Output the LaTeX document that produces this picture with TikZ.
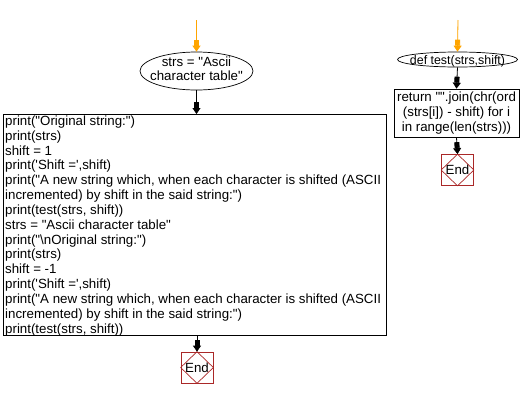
\documentclass[tikz,border=0pt]{standalone}
\usepackage{fontspec}
\setmainfont{Liberation Sans}[Ligatures=TeXOff]
\usetikzlibrary{shapes.geometric,arrows.meta}
\definecolor{startor}{RGB}{255,165,0}
\definecolor{endred}{RGB}{170,40,40}
\tikzset{
  flowtext/.style={font=\fontsize{13.3}{14.85}\selectfont},
  startell/.style={ellipse,draw,line width=0.7pt,inner sep=0pt,align=center,flowtext},
  procbox/.style={rectangle,draw,line width=0.7pt,inner sep=0pt,flowtext},
  endbox/.style={rectangle,draw=endred,line width=0.7pt,minimum width=32pt,minimum height=31pt,inner sep=0pt,flowtext,
    append after command={\pgfextra{\let\tmpn\tikzlastnode}
      (\tmpn.north) edge[draw=endred,line width=0.7pt,-] (\tmpn.east)
      (\tmpn.east) edge[draw=endred,line width=0.7pt,-] (\tmpn.south)
      (\tmpn.south) edge[draw=endred,line width=0.7pt,-] (\tmpn.west)
      (\tmpn.west) edge[draw=endred,line width=0.7pt,-] (\tmpn.north)}},
  flowarrow/.style={line width=0.8pt,-{Rectangle[width=5pt,length=6pt,sep=0pt]Triangle[width=8pt,length=6pt]}},
}
\begin{document}
\begin{tikzpicture}[x=1pt,y=-1pt]
\useasboundingbox[fill=white] (0,0) rectangle (522,400);
% left flow
\coordinate (s1) at (196.5,20);
\node[startell,minimum width=113pt,minimum height=38pt] (e1) at (196.5,71)
  {\makebox[0pt]{\raisebox{-0.25em}[0pt][0pt]{\begin{tabular}{@{}c@{}}strs = "Ascii\\[-0.6pt]character table"\end{tabular}}}};
\node[procbox,minimum width=383pt,minimum height=221pt,anchor=north west] (b1) at (3,114) {};
\node[flowtext,anchor=north west,align=left,inner sep=0pt] (t1) at (5,115.5) {%
print("Original string:")\\
print(strs)\\
shift = 1\\
print('Shift =',shift)\\
print("A new string which, when each character is shifted (ASCII\\
incremented) by shift in the said string:")\\
print(test(strs, shift))\\
strs = "Ascii character table"\\
print("\textbackslash nOriginal string:")\\
print(strs)\\
shift = -1\\
print('Shift =',shift)\\
print("A new string which, when each character is shifted (ASCII\\
incremented) by shift in the said string:")\\
print(test(strs, shift))};
\node[endbox] (n1) at (197,367.5) {End};
\draw[flowarrow,draw=startor,fill=startor] (s1) -- (e1.north);
\draw[flowarrow] (e1.south) -- (b1.north -| e1.south);
\draw[flowarrow] (b1.south -| n1.north) -- (n1.north);
% right flow
\coordinate (s2) at (458,20);
\node[startell,minimum width=120pt,minimum height=15pt] (e2) at (457.5,59.5)
  {\makebox[0pt]{\raisebox{-0.36em}[0pt][0pt]{\fontsize{12.4}{14}\selectfont def test(strs,shift)}}};
\node[procbox,minimum width=125pt,minimum height=48pt,align=center] (b2) at (456.5,113) {return "".join(chr(ord\\(strs[i]) - shift) for i\\in range(len(strs)))};
\node[endbox] (n2) at (457.5,170) {End};
\draw[flowarrow,draw=startor,fill=startor] (s2) -- (e2.north);
\draw[flowarrow] (e2.south) -- (b2.north);
\draw[flowarrow] (b2.south) -- (n2.north);
\end{tikzpicture}
\end{document}
